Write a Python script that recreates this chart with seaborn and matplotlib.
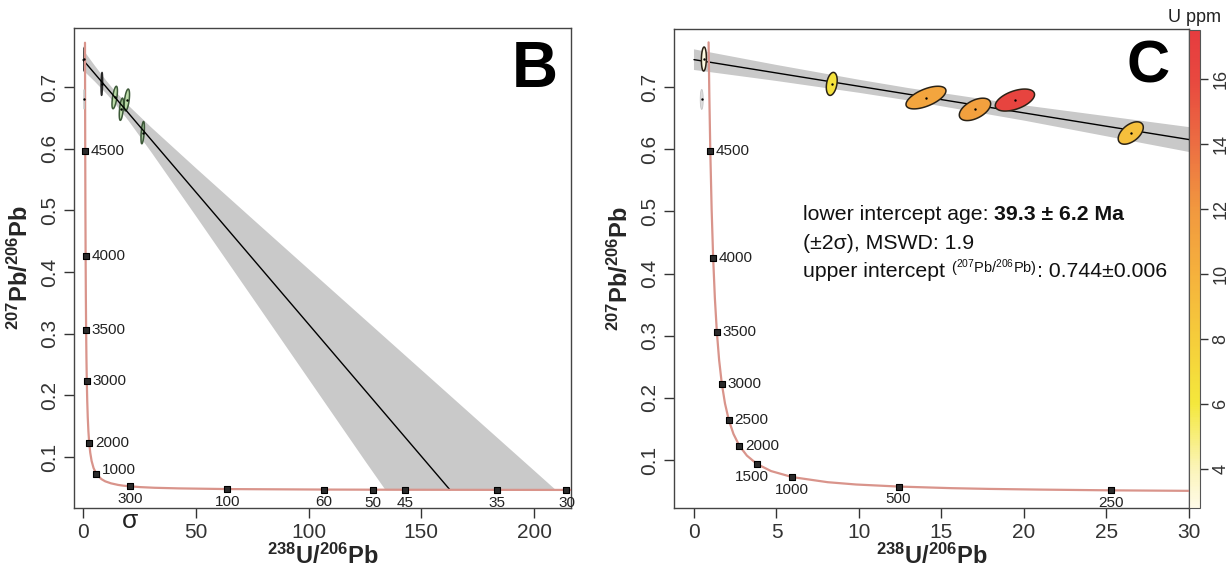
import numpy as np
import matplotlib
matplotlib.use("Agg")
import matplotlib.pyplot as plt
import seaborn as sns
from matplotlib.colors import LinearSegmentedColormap, Normalize
from matplotlib.cm import ScalarMappable

# ---------------- data ----------------
# Tera-Wasserburg concordia curve points (age in Ma, 238U/206Pb, 207Pb/206Pb)
conc_age = [4870, 4700, 4500, 4250, 4000, 3750, 3500, 3250, 3000, 2750, 2500, 2250,
            2000, 1750, 1500, 1250, 1000, 750, 625, 500, 400, 350, 300, 250, 200,
            150, 100, 60, 50, 45, 35, 30, 28]
conc_x = [0.886, 0.932, 0.990, 1.071, 1.163, 1.267, 1.387, 1.525, 1.687, 1.880, 2.111, 2.394,
          2.749, 3.206, 3.817, 4.673, 5.959, 8.105, 9.822, 12.40, 15.62, 17.92, 20.99, 25.29, 31.74,
          42.48, 63.97, 106.9, 128.4, 142.8, 183.7, 214.4, 229.7]
conc_y = [0.7718, 0.6855, 0.5970, 0.5032, 0.4252, 0.3602, 0.3060, 0.2607, 0.2228, 0.1910, 0.1643, 0.1419,
          0.1230, 0.1071, 0.0936, 0.0822, 0.0725, 0.0643, 0.0606, 0.0573, 0.0547, 0.0535, 0.0524, 0.0512, 0.0501,
          0.0491, 0.0480, 0.0472, 0.0470, 0.0469, 0.0467, 0.0466, 0.0466]

ages_B = [4500, 4000, 3500, 3000, 2000, 1000, 300, 100, 60, 50, 45, 35, 30]
ages_C = [4500, 4000, 3500, 3000, 2500, 2000, 1500, 1000, 500, 250]
below_B = [300, 100, 60, 50, 45, 35, 30]
below_C = [1500, 1000, 500, 250]

# discordia regression line and its confidence envelope
disc_x = [0.0, 162.7]
disc_y = [0.744, 0.0469]
band_x = [0, 5, 10, 13, 20, 30, 50, 75, 100, 125, 134, 150, 175, 200, 210, 225]
band_hi = [0.7606, 0.7355, 0.7117, 0.6983, 0.6706, 0.6355, 0.5688, 0.4867, 0.4049, 0.3232,
           0.2938, 0.2415, 0.1598, 0.0782, 0.0455, -0.0034]
band_lo = [0.7274, 0.7097, 0.6907, 0.6783, 0.6460, 0.5955, 0.4908, 0.3587, 0.2263, 0.0938,
           0.0461, -0.0387, -0.1712, -0.3038, -0.3568, -0.4364]
conc_floor = 0.0469

# analyses (2-sigma error ellipses)
ell_x = [0.60, 8.35, 14.06, 17.03, 19.45, 26.47]
ell_y = [0.745, 0.705, 0.683, 0.664, 0.679, 0.626]
ell_sx = [0.15, 0.33, 1.21, 0.95, 1.19, 0.76]
ell_sy = [0.0193, 0.0185, 0.0182, 0.0180, 0.0177, 0.0180]
ell_rho = [0.1, 0.3, 0.6, 0.5, 0.5, 0.5]
ell_u = [3.0, 6.5, 11.0, 11.3, 16.5, 9.0]
ell_fill_B = ["white", "white", "#b8dba3", "#b8dba3", "#b8dba3", "#a8c8a0"]
ell_edge_B = ["#111111", "#111111", "#2c4a28", "#2c4a28", "#2c4a28", "#2c4a28"]
# rejected analysis
rej_x, rej_y, rej_sx, rej_sy = 0.47, 0.680, 0.09, 0.016

u_ticks = [4, 6, 8, 10, 12, 14, 16]

# ---------------- style ----------------
sns.set_theme(style="ticks")
plt.rcParams["font.family"] = ["Liberation Sans", "DejaVu Sans"]
plt.rcParams["mathtext.fontset"] = "custom"
plt.rcParams["mathtext.rm"] = "Liberation Sans"
plt.rcParams["mathtext.bf"] = "Liberation Sans:bold"
plt.rcParams["mathtext.it"] = "Liberation Sans:italic"

cmap = LinearSegmentedColormap.from_list(
    "uppm",
    [(0.0, "#fffbe8"), ((4 - 2.8) / 14.7, "#fbf4b8"), ((6 - 2.8) / 14.7, "#f4e83c"),
     ((8 - 2.8) / 14.7, "#f5cd3b"), ((10 - 2.8) / 14.7, "#f5b13d"), ((12 - 2.8) / 14.7, "#f1983f"),
     ((14 - 2.8) / 14.7, "#ec6e42"), ((16 - 2.8) / 14.7, "#e8483f"), (1.0, "#e63c3f")])
norm = Normalize(2.8, 17.5)

W, H = 1228, 571
fig = plt.figure(figsize=(W / 100, H / 100), dpi=100)
fig.patch.set_facecolor("white")
axB = fig.add_axes([74 / W, 1 - 508 / H, (571 - 74) / W, (508 - 28) / H])
axC = fig.add_axes([674 / W, 1 - 508 / H, (1189 - 674) / W, (508 - 29) / H])
cax = fig.add_axes([1189 / W, 1 - 508 / H, 11 / W, (508 - 30) / H])

conc_lookup = dict(zip(conc_age, zip(conc_x, conc_y)))


def ellipse_xy(cx, cy, sx, sy, rho, n=120):
    t = np.linspace(0, 2 * np.pi, n)
    return cx + sx * np.cos(t), cy + sy * (rho * np.cos(t) + np.sqrt(1 - rho ** 2) * np.sin(t))


def draw_panel(ax, ages, below, panel):
    bx = np.array(band_x, float)
    hi = np.array(band_hi, float)
    lo = np.maximum(np.array(band_lo, float), conc_floor)
    ax.fill_between(bx, lo, hi, where=hi >= lo, interpolate=True,
                    color="#c9c9c9", lw=0, zorder=1)
    sns.lineplot(x=disc_x, y=disc_y, color="black", lw=1.0, sort=False,
                 estimator=None, ax=ax, zorder=3)
    sns.lineplot(x=conc_x, y=conc_y, color="#d9948b", lw=1.6, sort=False,
                 estimator=None, ax=ax, zorder=4)
    # rejected analysis
    rx, ry = ellipse_xy(rej_x, rej_y, rej_sx, rej_sy, 0.0)
    ax.fill(rx, ry, facecolor="#dcdcdc", edgecolor="#c4c4c4", lw=0.6, zorder=5)
    # analyses
    for i in range(len(ell_x)):
        ex, ey = ellipse_xy(ell_x[i], ell_y[i], ell_sx[i], ell_sy[i], ell_rho[i])
        if panel == "B":
            ax.fill(ex, ey, facecolor=ell_fill_B[i], edgecolor=ell_edge_B[i], lw=1.1,
                    alpha=0.9, zorder=2)
        else:
            ax.fill(ex, ey, facecolor=cmap(norm(ell_u[i])), edgecolor="#2a2216",
                    lw=1.1, zorder=5)
    sns.scatterplot(x=ell_x + [rej_x], y=ell_y + [rej_y], color="black", s=3,
                    linewidth=0, ax=ax, zorder=6)
    # age markers
    mx = [conc_lookup[a][0] for a in ages]
    my = [conc_lookup[a][1] for a in ages]
    sns.scatterplot(x=mx, y=my, marker="s", s=22, color="#2b2b2b", edgecolor="black",
                    linewidth=0.8, ax=ax, zorder=7)
    for a, x, y in zip(ages, mx, my):
        if a in below:
            dx = -3.5 if (panel == "C" and a == 1500) else 0
            ax.annotate(str(a), (x, y), xytext=(dx, -4.2), textcoords="offset points",
                        ha="center", va="top", fontsize=11, color="#222222", zorder=8)
        else:
            dy = 3 if (panel == "B" and a == 1000) else 0
            ax.annotate(str(a), (x, y), xytext=(4, dy), textcoords="offset points",
                        ha="left", va="center", fontsize=11, color="#222222", zorder=8)


draw_panel(axB, ages_B, below_B, "B")
draw_panel(axC, ages_C, below_C, "C")

axB.set_xlim(-3.99, 216.4)
axB.set_ylim(0.0173, 0.7957)
axB.set_xticks([0, 50, 100, 150, 200])
axC.set_xlim(-1.21, 30.0)
axC.set_ylim(0.0228, 0.7933)
axC.set_xticks([0, 5, 10, 15, 20, 25, 30])

ylab = r"$\mathbf{^{207}Pb/^{206}Pb}$"
xlab = r"$\mathbf{^{238}U/^{206}Pb}$"
for ax in (axB, axC):
    ax.set_yticks([0.1, 0.2, 0.3, 0.4, 0.5, 0.6, 0.7])
    ax.set_yticklabels(["0.1", "0.2", "0.3", "0.4", "0.5", "0.6", "0.7"])
    ax.tick_params(direction="out", length=7, width=1, colors="#333333",
                   labelsize=15, pad=4)
    ax.tick_params(axis="y", labelrotation=90)
    for t in ax.get_yticklabels():
        t.set_verticalalignment("center")
    for sp in ax.spines.values():
        sp.set_color("#444444")
        sp.set_linewidth(1.0)
    ax.set_ylabel(ylab, fontsize=17, labelpad=5)
    ax.set_xlabel(xlab, fontsize=17, labelpad=1)
    ax.grid(False)

axB.text(0.974, 0.975, "B", transform=axB.transAxes, ha="right", va="top",
         fontsize=46, fontweight="bold", color="black")
axC.text(0.963, 0.978, "C", transform=axC.transAxes, ha="right", va="top",
         fontsize=43, fontweight="bold", color="black")
fig.text(130 / W, 1 - 521 / H, "σ", ha="center", va="center", fontsize=19, color="#222222")

# annotation in panel C
nar = ["Liberation Sans Narrow", "Liberation Sans", "DejaVu Sans"]
fs = 15.3
t1 = axC.text(0.2505, 0.612, "lower intercept age: ", transform=axC.transAxes,
              ha="left", va="center", fontsize=fs, family=nar, color="#111111")
axC.annotate("39.3 ± 6.2 Ma", xy=(1, 0), xycoords=t1, ha="left", va="bottom",
             fontsize=fs, family=nar, fontweight="bold", color="#111111")
axC.text(0.2505, 0.553, "(±2σ), MSWD: 1.9", transform=axC.transAxes,
         ha="left", va="center", fontsize=fs, family=nar, color="#111111")
t3 = axC.text(0.2505, 0.494, "upper intercept ", transform=axC.transAxes,
              ha="left", va="center", fontsize=fs, family=nar, color="#111111")
t4 = axC.annotate(r"($\mathregular{^{207}}$Pb/$\mathregular{^{206}}$Pb)", xy=(1, 0), xycoords=t3,
                  xytext=(0, 1.0), textcoords="offset points", ha="left", va="bottom",
                  fontsize=10.5, family=nar, color="#111111")
axC.annotate(": 0.744±0.006", xy=(1, 0), xycoords=(t4, t3), ha="left", va="bottom",
             fontsize=fs, family=nar, color="#111111")

# colorbar
sm = ScalarMappable(norm=norm, cmap=cmap)
cb = fig.colorbar(sm, cax=cax, ticks=u_ticks)
cb.outline.set_edgecolor("#555555")
cb.outline.set_linewidth(0.8)
cax.tick_params(direction="out", length=6, width=1, colors="#333333", labelsize=13,
                labelrotation=90, pad=3)
for t in cax.get_yticklabels():
    t.set_verticalalignment("center")
cax.set_title("U ppm", fontsize=13, pad=6, color="#222222")

fig.savefig("out.png", dpi=100, facecolor="white")
